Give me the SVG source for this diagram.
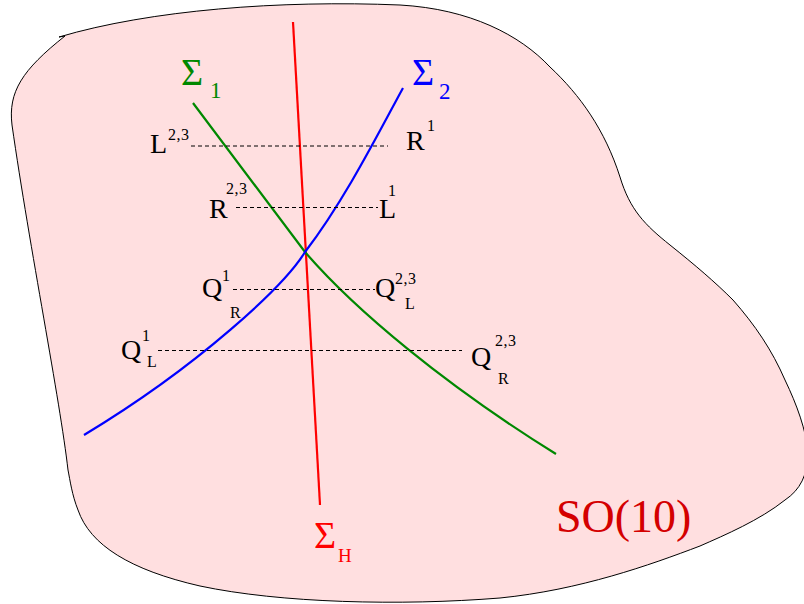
<svg xmlns="http://www.w3.org/2000/svg" width="804" height="604" viewBox="0 0 804 604">
<style>
text{font-family:"Liberation Serif","Times New Roman",serif;fill:#000}
.lab{font-size:28px}
.sup{font-size:16px;letter-spacing:0.5px}
.sig{font-size:38px}
.dash{stroke:#000;stroke-width:1;stroke-dasharray:4 3;fill:none}
.curve{fill:none;stroke-width:2.2}
</style>
<rect width="804" height="604" fill="#fff"/>
<g id="region">
<path d="M 59,37 C 150,10 280,0 400,5 C 470,9 520,35 550,67 C 580,95 605,130 620,177 C 630,210 645,225 670,245 C 695,265 715,282 733,300 C 755,325 772,350 785,380 C 797,405 806,430 808,452 C 808,475 800,490 785,500 C 760,520 725,535 700,546 C 650,565 580,590 500,598 C 400,606 280,603 200,586 C 130,570 90,545 78,510 C 72,495 70,480 68,470 C 60,400 30,250 12,125 C 8,92 22,70 65,36 Z" fill="#ffdfe0" stroke="#000" stroke-width="1"/>
</g>
<g id="connectors">
<line id="sigmaH-line" x1="293" y1="22" x2="320" y2="505" stroke="#ff0000" stroke-width="2.2"/>
<path id="sigma1-line" class="curve" stroke="#008800" d="M 193,103 L 305,252 C 355,310 445,385 556,454"/>
<path id="sigma2-line" class="curve" stroke="#0000ff" d="M 403,88 C 380,130 345,200 305,252 C 285,285 200,365 84,435"/>
<line class="dash" x1="191" y1="146" x2="388" y2="146"/>
<line class="dash" x1="236" y1="207.5" x2="378" y2="207.5"/>
<line class="dash" x1="233" y1="289.5" x2="375" y2="289.5"/>
<line class="dash" x1="158" y1="350.5" x2="462" y2="350.5"/>
</g>
<g id="sigma1"><text class="sig" x="181" y="85" style="fill:#008800">Σ</text><text x="210" y="98" style="fill:#008800;font-size:23px">1</text></g>
<g id="sigma2"><text class="sig" x="412" y="85" style="fill:#0000ff">Σ</text><text x="439" y="99" style="fill:#0000ff;font-size:23px">2</text></g>
<g id="sigmaH"><text class="sig" x="314" y="548" style="fill:#ff0000">Σ</text><text x="338" y="562" style="fill:#ff0000;font-size:19px">H</text></g>
<g id="L23"><text class="lab" x="150" y="153">L</text><text class="sup" x="168" y="140">2,3</text></g>
<g id="R1"><text class="lab" x="406" y="150">R</text><text class="sup" x="427" y="131">1</text></g>
<g id="R23"><text class="lab" x="209" y="218">R</text><text class="sup" x="226" y="194">2,3</text></g>
<g id="L1"><text class="lab" x="379" y="218">L</text><text class="sup" x="388" y="196">1</text></g>
<g id="Q1R"><text class="lab" x="202" y="297">Q</text><text class="sup" x="222" y="281">1</text><text class="sup" x="230" y="318">R</text></g>
<g id="Q23L"><text class="lab" x="375" y="297">Q</text><text class="sup" x="395" y="284">2,3</text><text class="sup" x="405" y="309">L</text></g>
<g id="Q1L"><text class="lab" x="121" y="359">Q</text><text class="sup" x="142" y="341">1</text><text class="sup" x="147" y="367">L</text></g>
<g id="Q23R"><text class="lab" x="471" y="366">Q</text><text class="sup" x="495" y="346">2,3</text><text class="sup" x="498" y="384">R</text></g>
<g id="so10"><text x="556" y="532" style="fill:#d40000;font-size:46px">SO(10)</text></g>
</svg>
